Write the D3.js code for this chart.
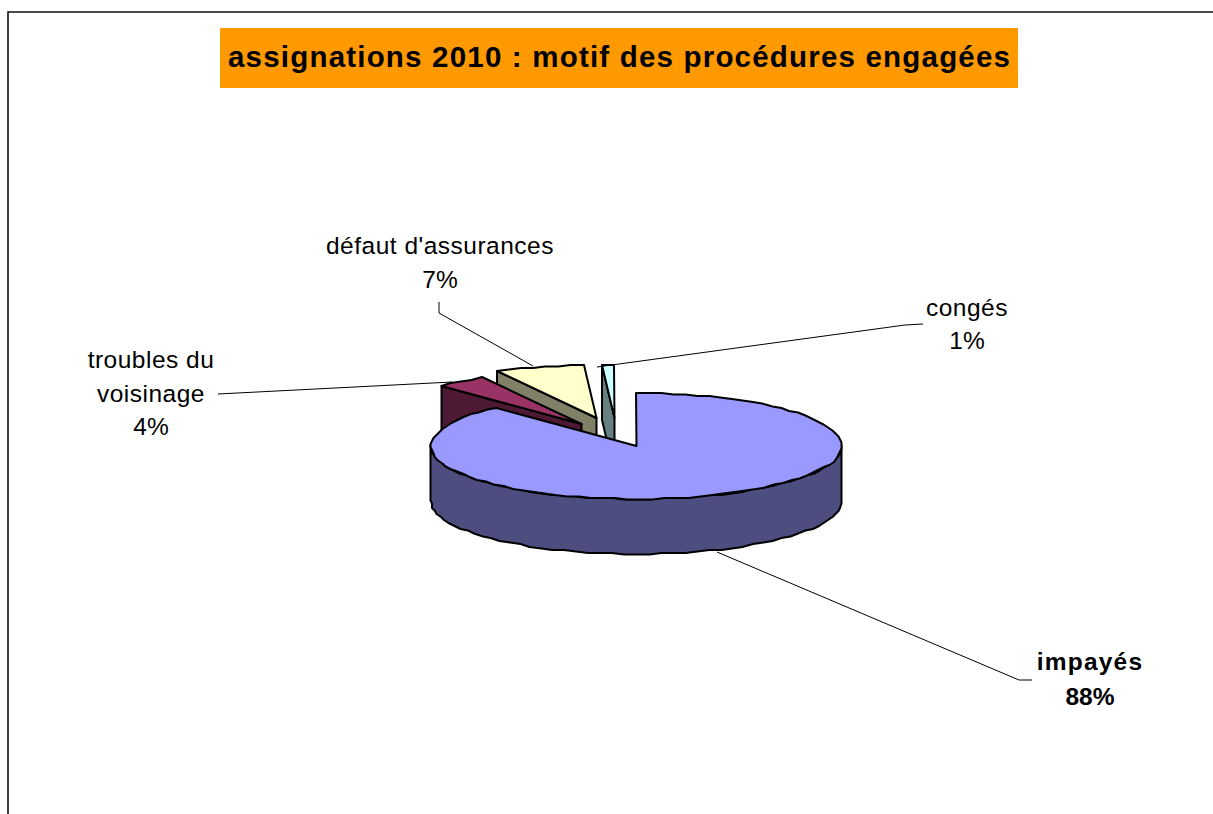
<!DOCTYPE html>
<html lang="fr">
<head>
<meta charset="utf-8">
<style>
html,body{margin:0;padding:0;background:#fff}
svg{display:block}
text{font-family:"Liberation Sans",Arial,sans-serif;fill:#000}
</style>
<script src="https://cdn.jsdelivr.net/npm/d3@7"></script>
</head>
<body>
<script>
// Motifs des assignations 2010, en pourcentage
const categories = ["impayés", "troubles du voisinage", "défaut d'assurances", "congés"];
const percentages = [88, 4, 7, 1];
const topColors = ["#9999ff", "#993366", "#ffffcc", "#ccffff"];
const wallColors = ["#4d4d80", "#4d1933", "#808066", "#668080"];
const chartTitle = "assignations 2010 : motif des procédures engagées";

const W = 1213, H = 814;
const cx = 636.5, cy = 446, rx = 205.5, ry = 53, depth = 55;
// Décalage des parts détachées par rapport au centre du disque
const explode = [[0, 0], [-55, -22], [-40, -28], [-22, -28]];

const svg = d3.select("body").append("svg").attr("width", W).attr("height", H);

// Cadre de la zone de graphique : seuls les bords gauche et haut sont visibles
svg.append("path").attr("fill", "none").attr("stroke", "#111").attr("stroke-width", 1.6)
  .attr("d", `M8 ${H}V12H${W}`);

// Bandeau de titre
svg.append("rect").attr("x", 220).attr("y", 28).attr("width", 798).attr("height", 60).attr("fill", "#ff9900");
svg.append("text").attr("x", 619).attr("y", 67).attr("text-anchor", "middle")
  .attr("font-size", 29.5).attr("font-weight", "bold").attr("textLength", 782).text(chartTitle);

const slices = d3.pie().value(d => d).sort(null)(percentages);
const px = d3.scaleLinear().domain([-1, 1]).range([cx - rx, cx + rx]);
const py = d3.scaleLinear().domain([-1, 1]).range([cy - ry, cy + ry]);

// Le contour est tracé sur une grille fine, d'où son aspect légèrement bosselé
const snap = v => Math.round(v / 1.5) * 1.5;
// Point du bord elliptique à un angle donné (0 = haut, sens horaire)
const rim = (a, i, dy = 0) => [snap(px(Math.sin(a))) + explode[i][0], snap(py(-Math.cos(a))) + explode[i][1] + dy];
const apex = (i, dy = 0) => [cx + explode[i][0], cy + explode[i][1] + dy];
const arcPts = (a0, a1, i, dy = 0) => {
  const n = Math.max(2, Math.round(Math.abs(a1 - a0) / 0.06));
  return d3.range(n + 1).map(k => rim(a0 + (a1 - a0) * k / n, i, dy));
};
const line = d3.line();
const poly = (pts, fill) => svg.append("path").attr("d", line(pts) + "Z").attr("fill", fill)
  .attr("stroke", "#000").attr("stroke-width", 2).attr("stroke-linejoin", "round");

// Parts détachées, de l'arrière vers l'avant : flanc puis dessus
[3, 2, 1].forEach(i => {
  const s = slices[i];
  poly([rim(s.startAngle, i), apex(i), apex(i, depth), rim(s.startAngle, i, depth)], wallColors[i]);
  poly([apex(i), ...arcPts(s.startAngle, s.endAngle, i)], topColors[i]);
});

// Part principale : paroi visible puis dessus
const main = slices[0];
poly([...arcPts(Math.PI / 2, 3 * Math.PI / 2, 0),
      ...arcPts(3 * Math.PI / 2, Math.PI / 2, 0, depth)], wallColors[0]);
poly([apex(0), ...arcPts(main.startAngle, main.endAngle, 0)], topColors[0]);

// Traits de rappel des étiquettes
const leaders = [
  [[717, 552], [1019, 680], [1032, 680]],
  [[218, 394], [452, 382]],
  [[439, 302], [439, 313], [533, 366]],
  [[597, 367], [905, 325], [923, 324]]
];
leaders.forEach(l => svg.append("path").attr("d", line(l)).attr("fill", "none")
  .attr("stroke", "#000").attr("stroke-width", 1));

// Étiquettes : libellé(s) puis pourcentage
const labelLines = [
  [categories[0]],
  ["troubles du", "voisinage"],
  [categories[2]],
  [categories[3]]
];
const labelPos = [[1090, 670, 35], [151, 368, 33.5], [440, 254, 34], [967, 316, 33]];
labelLines.forEach((rows, i) => {
  const [x, y, step] = labelPos[i];
  const t = svg.append("text").attr("text-anchor", "middle").attr("font-size", 24.5)
    .attr("font-weight", i === 0 ? "bold" : "normal");
  rows.forEach((r, k) => t.append("tspan").attr("x", x).attr("y", y + k * step)
    .attr("letter-spacing", i === 0 ? 1.2 : 0.5).text(r));
  t.append("tspan").attr("x", x).attr("y", y + rows.length * step).text(percentages[i] + "%");
});
</script>
</body>
</html>
